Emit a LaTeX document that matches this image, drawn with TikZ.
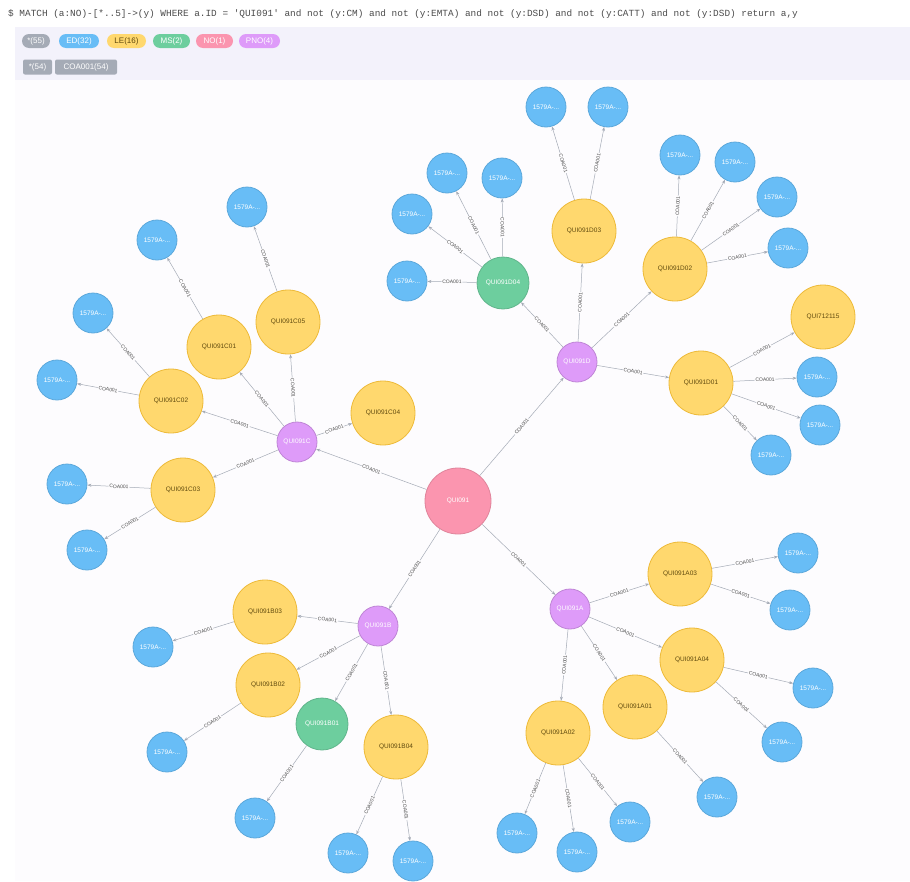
\documentclass[tikz,border=0pt]{standalone}
\usepackage{fontspec}
\setmainfont{Liberation Sans}
\newfontfamily\monof{Liberation Mono}
\usetikzlibrary{arrows.meta}
\definecolor{cblue}{HTML}{68BDF6}
\definecolor{cbluel}{HTML}{5CA8DB}
\definecolor{cyel}{HTML}{FFD86E}
\definecolor{cyell}{HTML}{EDBA39}
\definecolor{cyelt}{HTML}{604A0E}
\definecolor{cgreen}{HTML}{6DCE9E}
\definecolor{cgreenl}{HTML}{60B58B}
\definecolor{cpurp}{HTML}{DE9BF9}
\definecolor{cpurpl}{HTML}{BF85D6}
\definecolor{cpink}{HTML}{FB95AF}
\definecolor{cpinkl}{HTML}{E0849B}
\definecolor{cgray}{HTML}{A5ABB6}
\definecolor{cband}{HTML}{F3F2FB}
\definecolor{ccanvas}{HTML}{FDFCFE}
\definecolor{cedge}{HTML}{A5ABB6}
\tikzset{
  gnode/.style={circle, inner sep=0pt, line width=0.8pt, font=\fontsize{6.5}{7}\selectfont},
  blue/.style={gnode, minimum size=40pt, fill=cblue, draw=cbluel, text=white},
  yel/.style={gnode, minimum size=64pt, fill=cyel, draw=cyell, text=cyelt},
  grn/.style={gnode, minimum size=52pt, fill=cgreen, draw=cgreenl, text=white},
  purp/.style={gnode, minimum size=40pt, fill=cpurp, draw=cpurpl, text=white},
  pink/.style={gnode, minimum size=66pt, fill=cpink, draw=cpinkl, text=white},
  rel/.style={draw=cedge, line width=0.5pt, -{Stealth[length=4pt,width=3pt]}},
  elbl/.style={midway, sloped, fill=ccanvas, inner sep=0.8pt, text=black!70, font=\fontsize{5}{5}\selectfont},
  pill/.style={rounded corners=7pt, minimum height=14pt, inner sep=0pt, text=white, font=\fontsize{8}{8}\selectfont},
  tag/.style={rounded corners=2pt, minimum height=15pt, inner sep=0pt, fill=cgray, text=white, font=\fontsize{8}{8}\selectfont}
}
\begin{document}
\begin{tikzpicture}[x=1pt,y=-1pt]
\useasboundingbox (0,0) rectangle (910,881);
\fill[white] (0,0) rectangle (910,881);
\fill[ccanvas] (15,80) rectangle (910,881);
\fill[cband] (15,27) rectangle (910,80);
\node[anchor=west, inner sep=0pt, text=black!70, font=\monof\fontsize{9.4}{10}\selectfont] (query) at (8,14)
  {\$ MATCH (a:NO)-[*..5]->(y) WHERE a.ID = 'QUI091' and not (y:CM) and not (y:EMTA) and not (y:DSD) and not (y:CATT) and not (y:DSD) return a,y};
% legend
\node[pill, fill=cgray, minimum width=28pt] (l1) at (36,41) {*(55)};
\node[pill, fill=cblue, minimum width=40pt] (l2) at (79,41) {ED(32)};
\node[pill, fill=cyel, text=cyelt, minimum width=39pt] (l3) at (126.5,41) {LE(16)};
\node[pill, fill=cgreen, minimum width=37pt] (l4) at (171.5,41) {MS(2)};
\node[pill, fill=cpink, minimum width=37pt] (l5) at (214.5,41) {NO(1)};
\node[pill, fill=cpurp, minimum width=41pt] (l6) at (259.5,41) {PNO(4)};
\node[tag, minimum width=29pt] (t1) at (37.5,67) {*(54)};
\node[tag, minimum width=62pt] (t2) at (86,67) {COA001(54)};
% nodes
\node[pink] (n) at (458,501) {QUI091};
\node[purp] (pD) at (577,362) {QUI091D};
\node[purp] (pC) at (297,442) {QUI091C};
\node[purp] (pB) at (378,626) {QUI091B};
\node[purp] (pA) at (570,609) {QUI091A};
\node[yel] (D03) at (584,231) {QUI091D03};
\node[yel] (D02) at (675,269) {QUI091D02};
\node[yel] (X) at (823,317) {QUI712115};
\node[yel] (D01) at (701,383) {QUI091D01};
\node[grn] (D04) at (503,283) {QUI091D04};
\node[yel] (C05) at (288,322) {QUI091C05};
\node[yel] (C01) at (219,347) {QUI091C01};
\node[yel] (C02) at (171,401) {QUI091C02};
\node[yel] (C04) at (383,413) {QUI091C04};
\node[yel] (C03) at (183,490) {QUI091C03};
\node[yel] (B03) at (265,612) {QUI091B03};
\node[yel] (B02) at (268,685) {QUI091B02};
\node[grn] (B01) at (322,724) {QUI091B01};
\node[yel] (B04) at (396,747) {QUI091B04};
\node[yel] (A03) at (680,574) {QUI091A03};
\node[yel] (A04) at (692,660) {QUI091A04};
\node[yel] (A01) at (635,707) {QUI091A01};
\node[yel] (A02) at (558,733) {QUI091A02};
\foreach \nm/\px/\py in {b1/447/173, b2/502/178, b3/412/214, b4/407/281,
  b5/546/107, b6/608/107, b7/680/155, b8/735/162, b9/777/197, b10/788/248,
  b11/817/377, b12/820/425, b13/771/455, b14/247/207, b15/157/240,
  b16/93/313, b17/57/380, b18/67/484, b19/87/550, b20/153/647, b21/167/752,
  b22/255/818, b23/348/853, b24/413/861, b25/798/553, b26/790/610,
  b27/813/688, b28/782/742, b29/717/797, b30/517/833, b31/577/852, b32/630/822}
  {\node[blue] (\nm) at (\px,\py) {1579A-...};}
% edges
\foreach \a/\b in {n/pD, n/pC, n/pB, n/pA,
  pD/D04, pD/D03, pD/D02, pD/D01,
  pC/C05, pC/C01, pC/C02, pC/C04, pC/C03,
  pB/B03, pB/B02, pB/B01, pB/B04,
  pA/A03, pA/A04, pA/A01, pA/A02,
  D04/b1, D04/b2, D04/b3, D04/b4, D03/b5, D03/b6,
  D02/b7, D02/b8, D02/b9, D02/b10, D01/X, D01/b11, D01/b12, D01/b13,
  C05/b14, C01/b15, C02/b16, C02/b17, C03/b18, C03/b19,
  B03/b20, B02/b21, B01/b22, B04/b23, B04/b24,
  A03/b25, A03/b26, A04/b27, A04/b28, A01/b29, A02/b30, A02/b31, A02/b32}
  {\draw[rel] (\a) -- node[elbl]{COA001} (\b);}
\end{tikzpicture}
\end{document}
